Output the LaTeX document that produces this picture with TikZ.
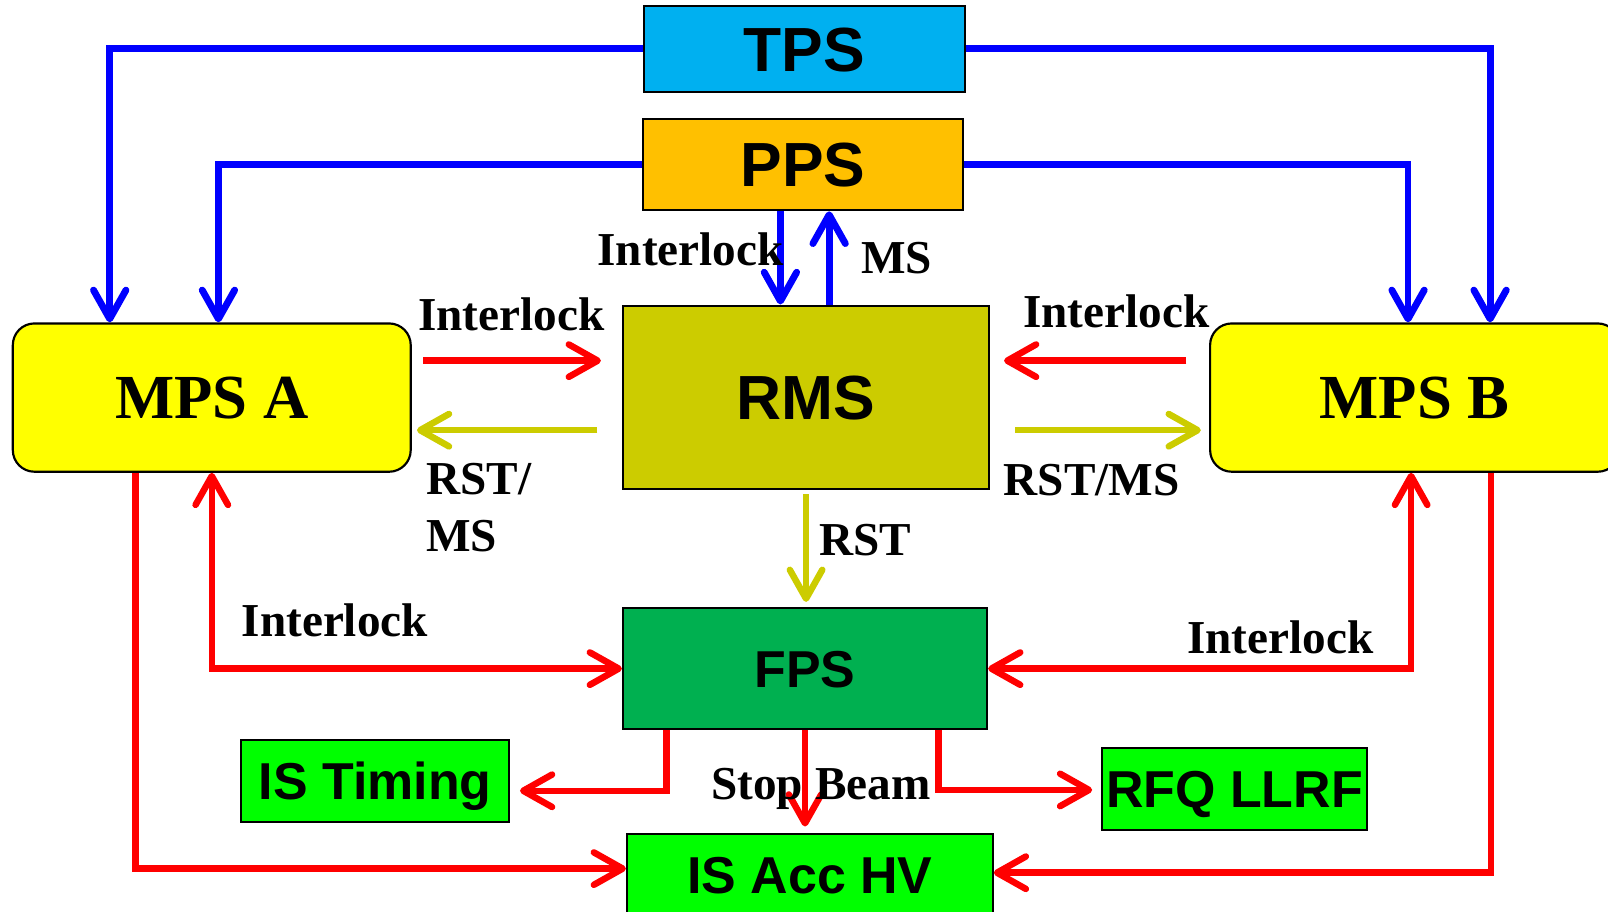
\documentclass[tikz,border=0pt]{standalone}
\usepackage{fontspec}
\newfontfamily\sansfont{Liberation Sans}
\newfontfamily\seriffont{Liberation Serif}
\usetikzlibrary{arrows.meta}
\definecolor{tpsblue}{HTML}{00B0F0}
\definecolor{ppsorange}{HTML}{FFC000}
\definecolor{rmsolive}{HTML}{CCCC00}
\definecolor{mpsyellow}{HTML}{FFFF00}
\definecolor{fpsgreen}{HTML}{00B050}
\definecolor{isgreen}{HTML}{00FF00}
\definecolor{linkblue}{HTML}{0000FF}
\definecolor{linkred}{HTML}{FF0000}

\tikzset{
	>={Straight Barb[length=8pt,width=9pt,round]},
	topbox/.style={draw=black, line width=0.6pt, inner sep=0pt, text height=12.4pt, text depth=0pt, font=\sansfont\bfseries\fontsize{17.3}{20}\selectfont},
	isbox/.style={draw=black, line width=0.6pt, inner sep=0pt, fill=isgreen, minimum height=0.8cm, text height=10.3pt, text depth=0pt, font=\sansfont\bfseries\fontsize{14.4}{17}\selectfont},
	mpsbox/.style={draw=black, line width=0.6pt, inner sep=0pt, fill=mpsyellow, rounded corners=6pt, minimum width=3.88cm, minimum height=1.446cm, text height=11.5pt, text depth=0pt, font=\seriffont\bfseries\fontsize{17.4}{21}\selectfont},
	lbl/.style={inner sep=0pt, anchor=base west, font=\seriffont\bfseries\fontsize{13.1}{15.9}\selectfont},
	bluelink/.style={linkblue, line width=1.9pt, ->},
	redlink/.style={linkred, line width=1.8pt, ->},
	olivelink/.style={rmsolive, line width=1.8pt, ->}
}

\begin{document}
\begin{tikzpicture}
	\useasboundingbox (0,0) rectangle (15.68,8.89);
	\node[topbox, fill=tpsblue, minimum width=3.13cm, minimum height=0.84cm] (tps) at (7.845,8.414) {TPS};
	\node[topbox, fill=ppsorange, minimum width=3.12cm, minimum height=0.89cm] (pps) at (7.83,7.285) {PPS};
	\node[topbox, fill=rmsolive, minimum width=3.57cm, minimum height=1.79cm] (rms) at (7.86,5.015) {RMS};
	\node[mpsbox] (mpsa) at (2.065,5.013) {MPS A};
	\node[mpsbox, minimum width=3.99cm] (mpsb) at (13.795,5.013) {MPS B};
	\node[isbox, fill=fpsgreen, minimum width=3.55cm, minimum height=1.18cm] (fps) at (7.85,2.37) {FPS};
	\node[isbox, minimum width=2.615cm] (istiming) at (3.6575,1.274) {IS Timing};
	\node[isbox, minimum width=2.585cm] (rfq) at (12.038,1.197) {RFQ LLRF};
	\node[isbox, minimum width=3.566cm] (isacc) at (7.897,0.36) {IS Acc HV};

	\draw[bluelink] (tps.west) -| ([xshift=-9.95mm]mpsa.north);
	\draw[bluelink] (tps.east) -| ([xshift=7.35mm]mpsb.north);
	\draw[bluelink] (pps.west) -| ([xshift=0.65mm]mpsa.north);
	\draw[bluelink] (pps.east) -| ([xshift=-0.65mm]mpsb.north);
	\draw[bluelink] ([xshift=-2.5mm]rms.north |- pps.south) -- ([xshift=-2.5mm]rms.north);
	\draw[bluelink] ([xshift=2.25mm]rms.north) -- ([xshift=2.25mm]rms.north |- pps.south);

	\draw[redlink, shorten <=1.1mm, shorten >=2.05mm] ([yshift=3.6mm]mpsa.east) -- ([yshift=3.6mm]mpsa.east -| rms.west);
	\draw[redlink, shorten <=2.2mm, shorten >=1.35mm] ([yshift=3.6mm]mpsb.west) -- ([yshift=3.6mm]mpsb.west -| rms.east);
	\draw[olivelink, shorten <=2.4mm, shorten >=0.5mm] ([yshift=-3.2mm]rms.west) -- ([yshift=-3.2mm]rms.west -| mpsa.east);
	\draw[olivelink, shorten <=2.45mm, shorten >=0.8mm] ([yshift=-3.2mm]rms.east) -- ([yshift=-3.2mm]rms.east -| mpsb.west);
	\draw[olivelink, shorten <=0.4mm, shorten >=0.5mm] (rms.south) -- (rms.south |- fps.north);

	\draw[redlink, <->] (mpsa.south) |- (fps.west);
	\draw[redlink, <->] ([xshift=-0.35mm]mpsb.south) |- (fps.east);
	\draw[redlink] ([xshift=-7.45mm]mpsa.south) |- ([yshift=0.6mm]isacc.west);
	\draw[redlink] ([xshift=7.45mm]mpsb.south) |- ([yshift=0.2mm]isacc.east);
	\draw[redlink, shorten >=0.95mm] ([xshift=-13.5mm]fps.south) |- ([yshift=-0.95mm]istiming.east);
	\draw[redlink, shorten >=0.6mm] (fps.south) -- (fps.south |- isacc.north);
	\draw[redlink, shorten >=0.85mm] ([xshift=13mm]fps.south) |- ([yshift=-0.1mm]rfq.west);

	\node[lbl] (lblppsrms) at (5.82,6.30) {Interlock};
	\node[lbl] (lblms) at (8.39,6.22) {MS};
	\node[lbl] (lblmpsa) at (4.07,5.67) {Interlock};
	\node[lbl] (lblmpsb) at (9.97,5.70) {Interlock};
	\node[lbl, align=left] (lblrsta) at (4.15,3.51) {RST/\\MS};
	\node[lbl] (lblrstb) at (9.78,4.06) {RST/MS};
	\node[lbl] (lblrst) at (7.98,3.47) {RST};
	\node[lbl] (lblfpsa) at (2.35,2.68) {Interlock};
	\node[lbl] (lblfpsb) at (11.57,2.52) {Interlock};
	\node[lbl] (lblstop) at (6.93,1.09) {Stop Beam};
\end{tikzpicture}
\end{document}
